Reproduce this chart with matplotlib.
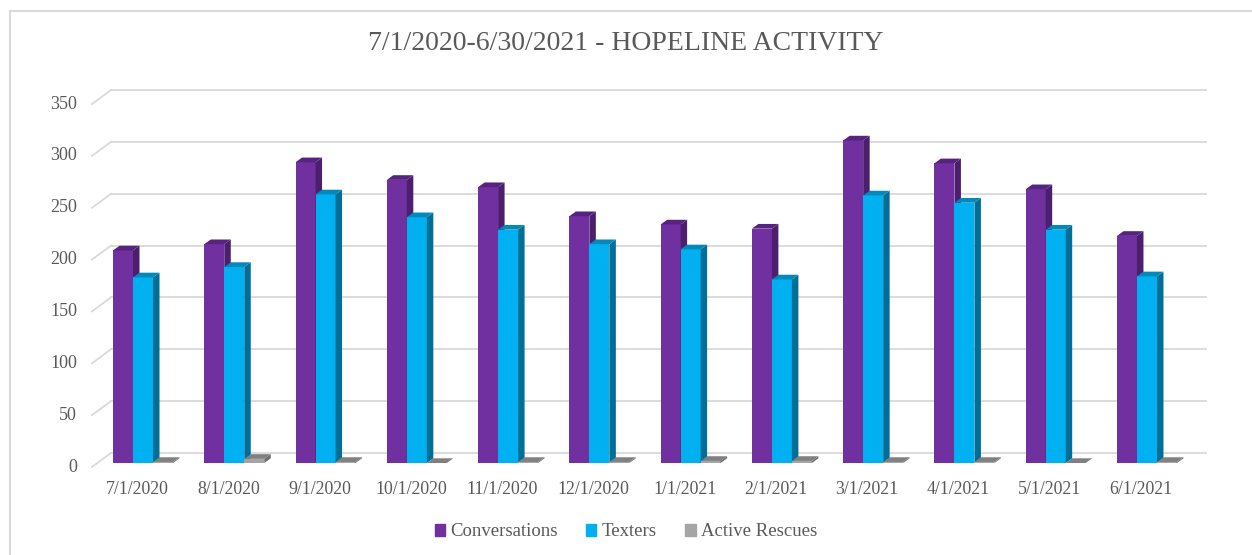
import matplotlib.pyplot as plt
from matplotlib.patches import Polygon
from matplotlib.lines import Line2D

# data
months = ["7/1/2020", "8/1/2020", "9/1/2020", "10/1/2020", "11/1/2020", "12/1/2020",
          "1/1/2021", "2/1/2021", "3/1/2021", "4/1/2021", "5/1/2021", "6/1/2021"]
conversations = [205, 211, 290, 273, 266, 238, 230, 226, 311, 289, 264, 219]
texters = [179, 189, 259, 237, 225, 211, 206, 177, 258, 251, 225, 180]
rescues = [1, 4, 1, 0, 1, 1, 2, 2, 1, 1, 0, 1]
yticks = [0, 50, 100, 150, 200, 250, 300, 350]

series = [
    ("Conversations", conversations, "#7030A0", "#4B1F6E", "#56237E"),
    ("Texters", texters, "#00B0F0", "#006F97", "#0089BA"),
    ("Active Rescues", rescues, "#A5A5A5", "#6E6E6E", "#808080"),
]

plt.rcParams['font.family'] = ['Liberation Serif', 'DejaVu Serif']
text_col = "#595959"
grid_col = "#D9D9D9"

fig = plt.figure(figsize=(12.52, 5.55), dpi=100)
ax = fig.add_axes([0, 0, 1, 1])
ax.set_xlim(-143 / 91.27, (1252 - 143) / 91.27)
ax.set_ylim(-92 / 1.037, (555 - 92) / 1.037)
ax.axis("off")

# convert pixel offsets (depth of the fake 3d) into data units
sx = 91.27
sy = 1.037


def off(dx_px, dy_px):
    return dx_px / sx, dy_px / sy


back_dx, back_dy = off(13.6, 10)
front_dx, front_dy = off(-5.4, -4)
bar_dx, bar_dy = off(6.5, 4.7)
x0, x1 = -0.5, len(months) - 0.5

# walls: back gridlines + slanted side wall lines
for v in yticks:
    ax.add_line(Line2D([x0 + back_dx, x1 + back_dx], [v + back_dy, v + back_dy],
                       color=grid_col, lw=1.3, zorder=1))
    ax.add_line(Line2D([x0 + front_dx, x0 + back_dx], [v + front_dy, v + back_dy],
                       color=grid_col, lw=1.3, zorder=1))
    ax.text(x0 + off(-20.4, 0)[0], v + front_dy, str(v), ha="right", va="center",
            fontsize=13, color=text_col)

# bars
w = 20 / sx
for i in range(len(months)):
    for k, (name, vals, c_front, c_side, c_top) in enumerate(series):
        left = i - 1.5 * w + k * w
        h = vals[i]
        ax.bar(left, h, width=w, align="edge", color=c_front, zorder=3 + i * 3 + k,
               linewidth=0)
        side = [(left + w, 0), (left + w + bar_dx, bar_dy),
                (left + w + bar_dx, h + bar_dy), (left + w, h)]
        top = [(left, h), (left + w, h), (left + w + bar_dx, h + bar_dy),
               (left + bar_dx, h + bar_dy)]
        ax.add_patch(Polygon(side, closed=True, facecolor=c_side, edgecolor="none",
                             zorder=3 + i * 3 + k))
        ax.add_patch(Polygon(top, closed=True, facecolor=c_top, edgecolor="none",
                             zorder=3 + i * 3 + k))
    ax.text(i + off(-6, 0)[0], off(0, -26)[1], months[i], ha="center", va="center",
            fontsize=12.8, color=text_col)

ax.text(0.5, 1 - 44 / 555, "7/1/2020-6/30/2021 - HOPELINE ACTIVITY", transform=ax.transAxes,
        ha="center", va="center", fontsize=20, color=text_col)

handles = [plt.Rectangle((0, 0), 1, 1, color=s[2]) for s in series]
fig.legend(handles, [s[0] for s in series], loc="center", bbox_to_anchor=(0.5, 1 - 532 / 555),
           ncol=3, frameon=False, prop={"family": ["Liberation Serif"], "size": 13.5},
           labelcolor=text_col, handlelength=0.55, handleheight=0.55, handletextpad=0.3,
           columnspacing=1.5)

# chart border (left and top edges visible)
fig.add_artist(Line2D([10 / 1252, 10 / 1252], [0, 1 - 11 / 555], color=grid_col, lw=1.5,
                      transform=fig.transFigure))
fig.add_artist(Line2D([10 / 1252, 1], [1 - 11 / 555, 1 - 11 / 555], color=grid_col, lw=1.5,
                      transform=fig.transFigure))

fig.savefig("out.png", dpi=100)
